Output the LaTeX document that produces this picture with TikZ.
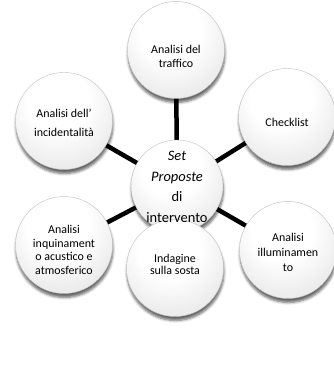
\documentclass[tikz,border=0pt]{standalone}
\usepackage{fontspec}
\setmainfont{Carlito}
\usetikzlibrary{shadows.blur,backgrounds}
\pgfdeclareradialshading{sphere}{\pgfpoint{-4bp}{14bp}}{color(0bp)=(white); color(16bp)=(white); color(32bp)=(gray!16); color(44bp)=(gray!38); color(55bp)=(gray!60); color(66bp)=(gray!72)}
\begin{document}
\begin{tikzpicture}[x=1bp,y=-1bp,
  ball/.style={circle, minimum size=97bp, inner sep=0pt, shade, shading=sphere, draw=gray!50, line width=0.4bp,
    blur shadow={shadow xshift=0.5bp, shadow yshift=-4bp, shadow opacity=60, shadow blur steps=5, shadow blur radius=2.5bp}},
  hub/.style={ball, minimum size=92bp},
  lbl/.style={align=center, inner sep=0pt, font=\fontsize{12}{14}\selectfont},
  hublbl/.style={align=center, inner sep=0pt, font=\fontsize{14.5}{20.5}\selectfont},
  link/.style={line width=4.5bp, black}]
\useasboundingbox (0,0) rectangle (334,367);
\node[hub]  (c)  at (177,186) {};
\node[ball] (t)  at (176,50)  {};
\node[ball] (tr) at (287,117) {};
\node[ball] (br) at (288,250) {};
\node[ball] (b)  at (175,268) {};
\node[ball] (bl) at (64,245)  {};
\node[ball] (tl) at (64,121)  {};
\begin{scope}[on background layer]
\foreach \n in {t,tr,br,b,bl,tl} \draw[link] (c.center) -- (\n.center);
\end{scope}
\node[hublbl] (ct) at (177,187) {\textit{Set}\\\textit{Proposte}\\di\\intervento};
\node[lbl] (tt)  at (176,56)  {Analisi del\\traffico};
\node[lbl] (trt) at (287,122) {Checklist};
\node[lbl, font=\fontsize{12}{19}\selectfont] (tlt) at (64,123) {Analisi dell’\\incidentalità};
\node[lbl, font=\fontsize{12}{13.5}\selectfont] (blt) at (64,250) {Analisi\\inquinament\\o acustico e\\atmosferico};
\node[lbl, font=\fontsize{12}{15}\selectfont] (brt) at (288,252) {Analisi\\illuminamen\\to};
\node[lbl, font=\fontsize{12}{12}\selectfont] (bt) at (175,264) {Indagine\\sulla sosta};
\end{tikzpicture}
\end{document}
